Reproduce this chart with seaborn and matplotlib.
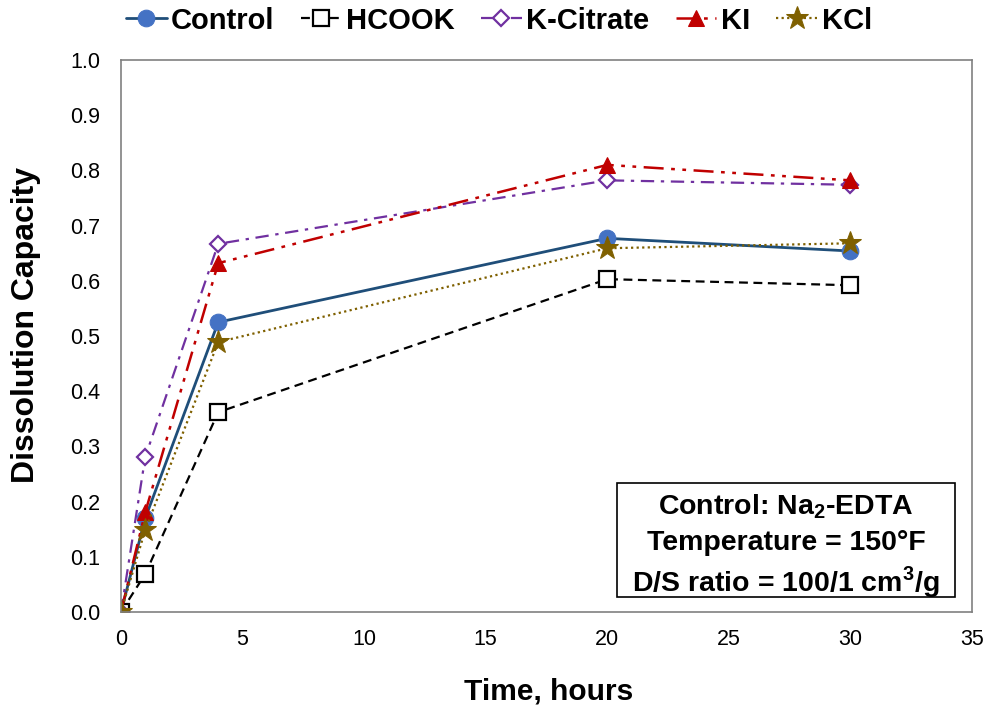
import matplotlib
matplotlib.use("Agg")
import matplotlib.pyplot as plt
from matplotlib.patches import Rectangle
import seaborn as sns
import pandas as pd

# Dissolution capacity vs. time for each additive
time_h = [0, 1, 4, 20, 30]
control = [0.0, 0.17, 0.525, 0.677, 0.654]
hcook = [0.0, 0.069, 0.362, 0.603, 0.592]
k_citrate = [0.0, 0.281, 0.667, 0.782, 0.774]
ki = [0.0, 0.181, 0.632, 0.810, 0.782]
kcl = [0.0, 0.149, 0.489, 0.659, 0.668]

series_names = ["Control", "HCOOK", "K-Citrate", "KI", "KCl"]
series_values = [control, hcook, k_citrate, ki, kcl]

conditions = [
    "Control: Na$_\\mathbf{2}$-EDTA",
    "Temperature = 150°F",
    "D/S ratio = 100/1 cm$^\\mathbf{3}$/g",
]

sns.set_theme(style="white")
plt.rcParams["font.family"] = ["Liberation Sans", "DejaVu Sans"]
plt.rcParams["text.color"] = "black"
plt.rcParams["axes.labelcolor"] = "black"
plt.rcParams["mathtext.fontset"] = "custom"
plt.rcParams["mathtext.bf"] = "Liberation Sans:bold"
plt.rcParams["mathtext.rm"] = "Liberation Sans"

styles = {
    "Control": dict(color="#1F4E79", linestyle="-", marker="o", markersize=12,
                    markerfacecolor="#4472C4", markeredgecolor="#4472C4", linewidth=2),
    "HCOOK": dict(color="black", linestyle=(0, (4, 2.5)), marker="s", markersize=11,
                  markerfacecolor="white", markeredgecolor="black", markeredgewidth=1.6, linewidth=1.6),
    "K-Citrate": dict(color="#7030A0", linestyle=(0, (6, 3, 1.5, 3)), marker="D", markersize=8.5,
                      markerfacecolor="white", markeredgecolor="#7030A0", markeredgewidth=1.6, linewidth=1.6),
    "KI": dict(color="#C00000", linestyle=(0, (8, 3, 1.5, 3, 1.5, 3)), marker="^", markersize=12,
               markerfacecolor="#C00000", markeredgecolor="#C00000", linewidth=1.8),
    "KCl": dict(color="#7F6000", linestyle=(0, (1, 1.5)), marker="*", markersize=17,
                markerfacecolor="#7F6000", markeredgecolor="#7F6000", linewidth=1.6),
}

fig = plt.figure(figsize=(9.89, 7.11), dpi=100)
ax = fig.add_axes([0.1223, 0.1392, 0.8605, 0.7764])

for name, vals in zip(series_names, series_values):
    df = pd.DataFrame({"t": time_h, "v": vals})
    sns.lineplot(data=df, x="t", y="v", ax=ax, label=name, **styles[name])

ax.set_xlim(0, 35)
ax.set_ylim(0, 1.0)
ax.set_xticks(range(0, 36, 5))
ax.set_yticks([i / 10 for i in range(11)])
ax.set_yticklabels([f"{i / 10:.1f}" for i in range(11)])
ax.tick_params(axis="both", direction="in", length=6, width=1, color="#808080",
               labelsize=15.5, labelcolor="black")
ax.tick_params(axis="x", pad=12)
ax.tick_params(axis="y", pad=15)
for s in ax.spines.values():
    s.set_color("#808080")
    s.set_linewidth(1.2)

ax.set_xlabel("Time, hours", fontsize=21.5, fontweight="bold")
ax.xaxis.set_label_coords(0.502, -0.119)
ax.set_ylabel("Dissolution Capacity", fontsize=23, fontweight="bold")
ax.yaxis.set_label_coords(-0.094, 0.52)

ax.legend(loc="upper center", bbox_to_anchor=(0.444, 1.118), ncol=5, frameon=False,
          prop={"size": 21, "weight": "bold"}, handlelength=1.4, handletextpad=0.15,
          columnspacing=0.9, borderaxespad=0.0)

# Test-conditions box
ax.add_patch(Rectangle((0.583, 0.027), 0.397, 0.207, transform=ax.transAxes,
                       facecolor="white", edgecolor="black", linewidth=1.2, zorder=5))
for line, y in zip(conditions, [0.198, 0.130, 0.063]):
    ax.text(0.7815, y, line, transform=ax.transAxes, ha="center", va="center_baseline",
            fontsize=20.5, fontweight="bold", zorder=6)

fig.savefig("out.png", dpi=100)
